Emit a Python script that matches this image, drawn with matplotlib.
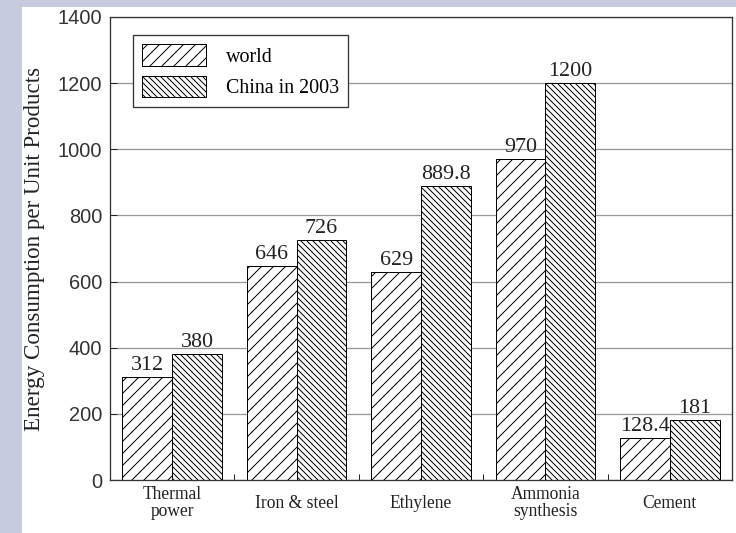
import numpy as np
import matplotlib
matplotlib.use('Agg')
import matplotlib.pyplot as plt
from matplotlib.patches import Rectangle

# ---- Data ----
categories = ['Thermal\npower', 'Iron & steel', 'Ethylene', 'Ammonia\nsynthesis', 'Cement']
world = [312, 646, 629, 970, 128.4]
china = [380, 726, 889.8, 1200, 181]
world_lbl = ['312', '646', '629', '970', '128.4']
china_lbl = ['380', '726', '889.8', '1200', '181']
yticks = [0, 200, 400, 600, 800, 1000, 1200, 1400]

# ---- Style ----
INK = '#222222'
GRID = '#999999'
SLIDE = '#c6cbde'
SERIF = ['Liberation Serif', 'DejaVu Serif']
SANS = ['Liberation Sans', 'DejaVu Sans']
DPI = 72  # 1 pt == 1 px
plt.rcParams['hatch.linewidth'] = 1.0
plt.rcParams['hatch.color'] = 'black'

fig = plt.figure(figsize=(736 / DPI, 533 / DPI), dpi=DPI)
fig.patch.set_facecolor(SLIDE)
# white page area (slide strip on the left and top)
fig.patches.append(Rectangle((22 / 736, 0), 1, (533 - 7) / 533,
                             transform=fig.transFigure, facecolor='white',
                             edgecolor='none', zorder=-10))

ax = fig.add_axes([110 / 736, 1 - 480 / 533, 622 / 736, 463 / 533])
ax.set_facecolor('white')

x = np.arange(len(categories))
w = 0.4
b1 = ax.bar(x - w / 2, world, w, facecolor='white', edgecolor='black',
            hatch='//', linewidth=1.0, label='world', zorder=2)
b2 = ax.bar(x + w / 2, china, w, facecolor='white', edgecolor='black',
            hatch='\\\\\\\\', linewidth=1.0, label='China in 2003', zorder=2)

for bars, labels in ((b1, world_lbl), (b2, china_lbl)):
    for bar, t in zip(bars, labels):
        ax.text(bar.get_x() + bar.get_width() / 2, bar.get_height() + 6, t,
                ha='center', va='bottom', fontsize=22, family=SERIF,
                color=INK, zorder=4)

ax.set_xlim(-0.5, len(categories) - 0.5)
ax.set_ylim(0, 1400)
ax.set_yticks(yticks)
ax.set_yticklabels([str(v) for v in yticks], family=SANS, fontsize=20, color='#333333')
ax.yaxis.grid(True, color=GRID, linewidth=1.3)
for gl in ax.get_ygridlines():
    gl.set_zorder(3)

ax.set_xticks(x)
ax.set_xticklabels(categories, family=SERIF, fontsize=17.5, color=INK,
                   va='center', linespacing=1.0)
ax.tick_params(axis='x', which='major', length=0, pad=23)
ax.set_xticks(x[:-1] + 0.5, minor=True)
ax.tick_params(axis='x', which='minor', direction='in', length=6, width=1.0, color=INK)
ax.tick_params(axis='y', direction='in', length=7, width=1.0, color=INK, pad=8)

for s in ax.spines.values():
    s.set_color('#333333')
    s.set_linewidth(1.3)
    s.set_zorder(5)

ax.set_ylabel('Energy Consumption per Unit Products', family=SERIF,
              fontsize=23, color=INK, labelpad=12)

leg = ax.legend(loc='upper left', bbox_to_anchor=(23 / 622, 1 - 18 / 463),
                borderaxespad=0, fancybox=False, framealpha=1,
                edgecolor='#333333', prop={'family': SERIF, 'size': 20},
                handlelength=3.2, handleheight=1.3, labelspacing=0.45,
                handletextpad=1.0, borderpad=0.45)
leg.get_frame().set_linewidth(1.3)
leg.set_zorder(6)

fig.savefig('out.png', dpi=DPI, facecolor=fig.get_facecolor())
